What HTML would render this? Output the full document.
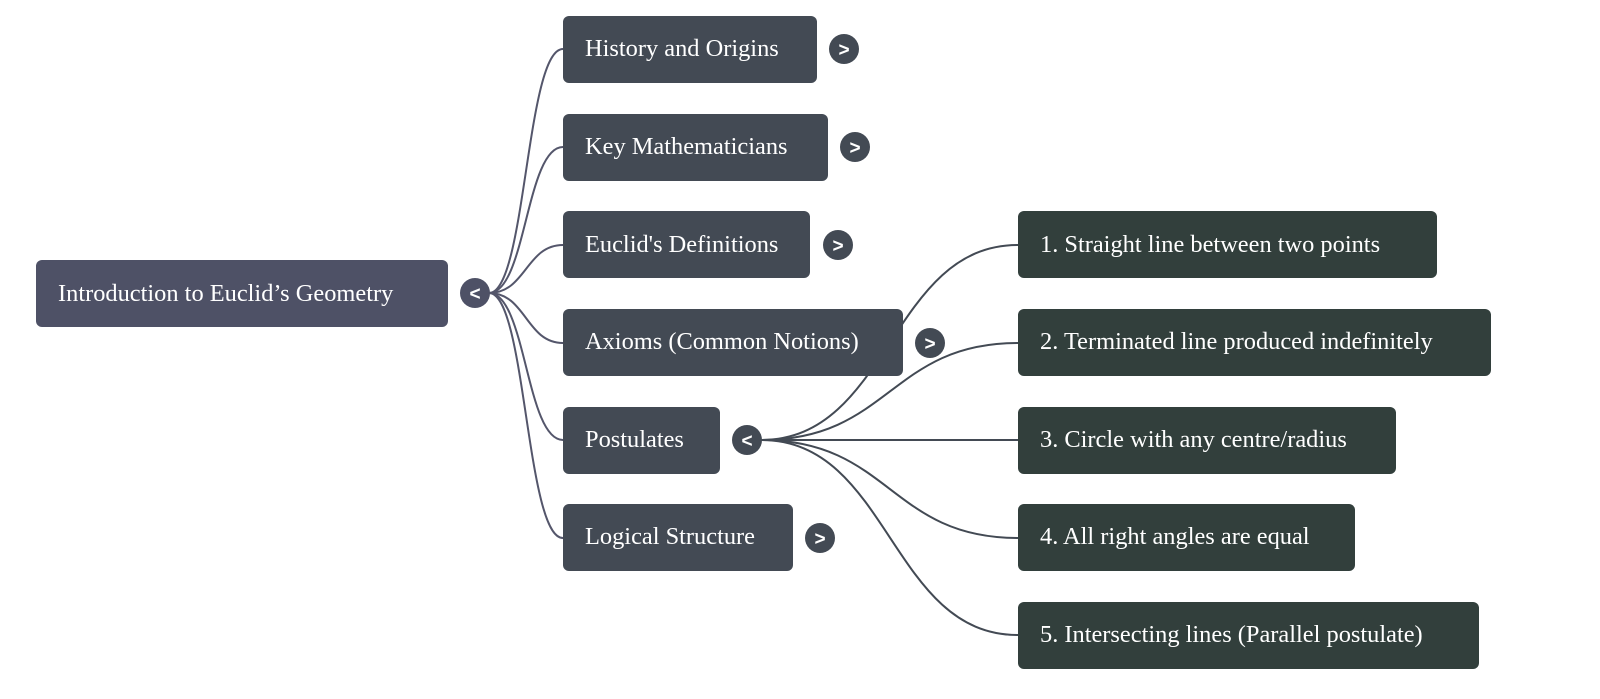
<!DOCTYPE html>
<html><head><meta charset="utf-8"><style>
html,body{margin:0;padding:0;background:#fff;}
svg{display:block;}
text{font-family:"Liberation Serif",serif;font-size:24.4px;fill:#fff;}
.t{font-family:"Liberation Sans",sans-serif;font-size:19px;font-weight:bold;text-anchor:middle;}
</style></head><body>
<svg width="1600" height="699" viewBox="0 0 1600 699" xmlns="http://www.w3.org/2000/svg">
<g fill="none" stroke-width="2">
<g stroke="#54566b">
<path d="M489 293 C526 293,526 49,563 49"/>
<path d="M489 293 C526 293,526 147,563 147"/>
<path d="M489 293 C526 293,526 245,563 245"/>
<path d="M489 293 C526 293,526 343,563 343"/>
<path d="M489 293 C526 293,526 440,563 440"/>
<path d="M489 293 C526 293,526 538,563 538"/>
</g>
<g stroke="#434a54">
<path d="M761 440 C890 440,890 245,1018 245"/>
<path d="M761 440 C890 440,890 343,1018 343"/>
<path d="M761 440 L1018 440"/>
<path d="M761 440 C890 440,890 538,1018 538"/>
<path d="M761 440 C890 440,890 635,1018 635"/>
</g>
</g>
<rect x="36" y="260" width="412" height="67" rx="6" fill="#4e5166"/>
<text x="58" y="301">Introduction to Euclid’s Geometry</text>
<circle cx="475" cy="293" r="15" fill="#4e5166"/><text class="t" x="475" y="300">&lt;</text>
<g fill="#434a54">
<rect x="563" y="16" width="254" height="67" rx="6"/>
<rect x="563" y="114" width="265" height="67" rx="6"/>
<rect x="563" y="211" width="247" height="67" rx="6"/>
<rect x="563" y="309" width="340" height="67" rx="6"/>
<rect x="563" y="407" width="157" height="67" rx="6"/>
<rect x="563" y="504" width="230" height="67" rx="6"/>
<circle cx="844" cy="49" r="15"/><circle cx="855" cy="147" r="15"/><circle cx="838" cy="245" r="15"/>
<circle cx="930" cy="343" r="15"/><circle cx="747" cy="440" r="15"/><circle cx="820" cy="538" r="15"/>
</g>
<text x="585" y="56">History and Origins</text>
<text x="585" y="154">Key Mathematicians</text>
<text x="585" y="252">Euclid's Definitions</text>
<text x="585" y="349">Axioms (Common Notions)</text>
<text x="585" y="447">Postulates</text>
<text x="585" y="544">Logical Structure</text>
<text class="t" x="844" y="56">&gt;</text><text class="t" x="855" y="154">&gt;</text><text class="t" x="838" y="252">&gt;</text>
<text class="t" x="930" y="350">&gt;</text><text class="t" x="747" y="447">&lt;</text><text class="t" x="820" y="545">&gt;</text>
<g fill="#323f3c">
<rect x="1018" y="211" width="419" height="67" rx="6"/>
<rect x="1018" y="309" width="473" height="67" rx="6"/>
<rect x="1018" y="407" width="378" height="67" rx="6"/>
<rect x="1018" y="504" width="337" height="67" rx="6"/>
<rect x="1018" y="602" width="461" height="67" rx="6"/>
</g>
<text x="1040" y="252">1. Straight line between two points</text>
<text x="1040" y="349">2. Terminated line produced indefinitely</text>
<text x="1040" y="447">3. Circle with any centre/radius</text>
<text x="1040" y="544">4. All right angles are equal</text>
<text x="1040" y="642">5. Intersecting lines (Parallel postulate)</text>
</svg>
</body></html>
